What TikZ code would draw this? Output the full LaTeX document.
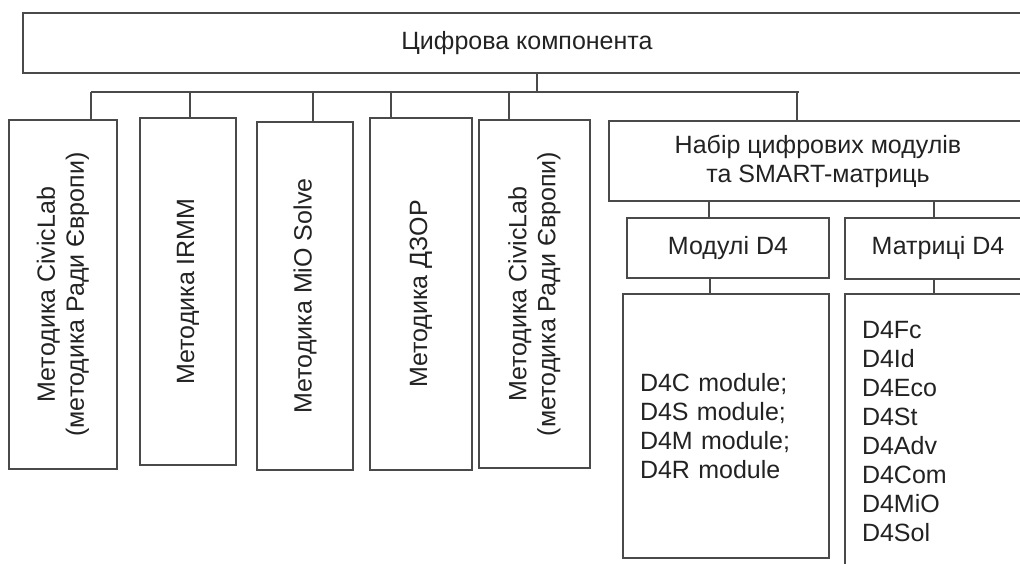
\documentclass[tikz,border=0pt]{standalone}
\usepackage{fontspec}
\setmainfont{Liberation Sans}
\usetikzlibrary{positioning}

\definecolor{linegray}{HTML}{4A4A4A}
\definecolor{textgray}{HTML}{222222}

\begin{document}
\begin{tikzpicture}[
      x=1pt, y=-1pt,
      box/.style={draw=linegray, line width=1.2pt, inner sep=0pt, align=center, text=textgray, font=\fontsize{25}{29}\selectfont},
      vbox/.style={box, rotate=90},
      link/.style={draw=linegray, line width=1.2pt}
    ]
      \useasboundingbox (0,0) rectangle (1020,563);
      \node[box, minimum width=1008pt, minimum height=60pt] (digital) at (527,43) {Цифрова компонента};
      % methods, text runs bottom to top
      \node[vbox, minimum width=349pt, minimum height=108pt] (civic) at (63,294.5) {Методика CivicLab\\(методика Ради Європи)};
      \node[vbox, minimum width=347pt, minimum height=96pt] (irmm) at (188,291.5) {Методика IRMM};
      \node[vbox, minimum width=348pt, minimum height=96pt] (mio) at (305,296) {Методика MiO Solve};
      \node[vbox, minimum width=352pt, minimum height=102pt] (dzor) at (421,294) {Методика ДЗОР};
      \node[vbox, minimum width=348pt, minimum height=111pt] (civictwo) at (534.5,294) {Методика CivicLab\\(методика Ради Європи)};
      % kit of modules and matrices
      \node[box, minimum width=418pt, minimum height=80pt] (kit) at (818,161) {Набір цифрових модулів\\та SMART-матриць};
      \node[box, minimum width=202pt, minimum height=60pt] (modules) at (728,248) {Модулі D4};
      \node[box, minimum width=186pt, minimum height=61pt] (matrices) at (938,248.5) {Матриці D4};
      \node[box, minimum width=206pt, minimum height=264pt, align=left, text width=172pt] (modlist) at (726,426) {D4C module;\\D4S module;\\D4M module;\\D4R module};
      \node[box, minimum width=186pt, minimum height=276pt, align=left, text width=152pt] (matlist) at (938,432) {D4Fc\\D4Id\\D4Eco\\D4St\\D4Adv\\D4Com\\D4MiO\\D4Sol};
      \coordinate (hub) at (537,92);
      \coordinate (busleft) at (91,92);
      \coordinate (busright) at (799,92);
      \draw[link] (digital.south -| hub) -- (hub);
      \draw[link] (busleft) -- (busright);
      \foreach \n/\x in {civic/91, irmm/190, mio/313, dzor/391, civictwo/509}
        \draw[link] (\x,92) -- (\x,0 |- \n.east);
      \draw[link] (797,92) -- (797,0 |- kit.north);
      \draw[link] (709,0 |- kit.south) -- (709,0 |- modules.north);
      \draw[link] (934,0 |- kit.south) -- (934,0 |- matrices.north);
      \draw[link] (710,0 |- modules.south) -- (710,0 |- modlist.north);
      \draw[link] (934,0 |- matrices.south) -- (934,0 |- matlist.north);
    \end{tikzpicture}
\end{document}
